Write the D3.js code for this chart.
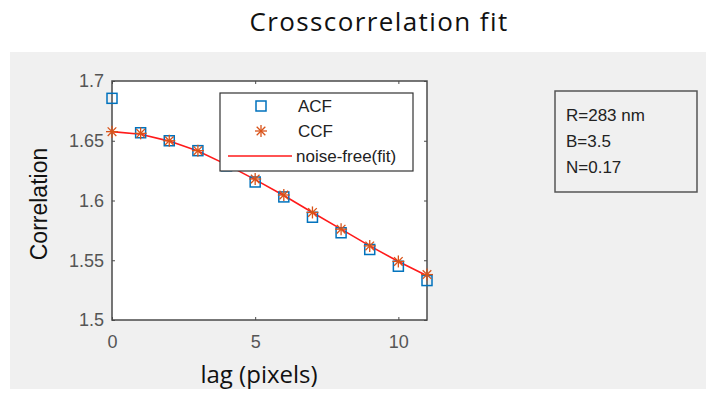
<!DOCTYPE html>
<html>
<head>
<meta charset="utf-8">
<script src="https://cdn.jsdelivr.net/npm/d3@7"></script>
<style>
  body { margin: 0; background: #fff; }
  svg { display: block; }
</style>
</head>
<body>
<div id="chart"></div>
<script>
// data
var lags = [0, 1, 2, 3, 4, 5, 6, 7, 8, 9, 10, 11];
var acf = [1.6855, 1.6567, 1.650, 1.6417, 1.629, 1.6155, 1.603, 1.586, 1.573, 1.559, 1.545, 1.533];
var ccf = [1.6576, 1.6562, 1.650, 1.6417, 1.630, 1.618, 1.6046, 1.590, 1.576, 1.562, 1.549, 1.538];
var fit = [1.6576, 1.6555, 1.6497, 1.6415, 1.630, 1.6175, 1.6042, 1.590, 1.576, 1.562, 1.549, 1.537];
var xTicks = [0, 5, 10];
var yTicks = [1.5, 1.55, 1.6, 1.65, 1.7];
var legendItems = ["ACF", "CCF", "noise-free(fit)"];
var infoLines = ["R=283 nm", "B=3.5", "N=0.17"];

var W = 715, H = 393;
var svg = d3.select("#chart").append("svg").attr("width", W).attr("height", H);

// grey figure panel
svg.append("rect").attr("x", 10).attr("y", 52).attr("width", 696).attr("height", 337).attr("fill", "#f0f0f0");

svg.append("text")
  .attr("x", 379).attr("y", 31)
  .attr("text-anchor", "middle")
  .style("font-family", "'Open Sans', sans-serif")
  .style("font-size", "26px")
  .style("letter-spacing", "1.4px")
  .attr("fill", "#111")
  .text("Crosscorrelation fit");

var pLeft = 112, pRight = 427, pTop = 81, pBottom = 320;
var x = d3.scaleLinear().domain([0, 11]).range([pLeft, pRight]);
var y = d3.scaleLinear().domain([1.5, 1.7]).range([pBottom, pTop]);

svg.append("rect").attr("x", pLeft).attr("y", pTop)
  .attr("width", pRight - pLeft).attr("height", pBottom - pTop).attr("fill", "#fff");

var axisColor = "#4a4a4a";
var tickFont = "Liberation Sans, Arial, sans-serif";

var gx = svg.append("g").attr("transform", "translate(0," + pBottom + ")")
  .call(d3.axisBottom(x).tickValues(xTicks).tickSizeInner(-3).tickSizeOuter(0).tickPadding(15));
var gy = svg.append("g").attr("transform", "translate(" + pLeft + ",0)")
  .call(d3.axisLeft(y).tickValues(yTicks).tickFormat(d3.format("")).tickSizeInner(-3).tickSizeOuter(0).tickPadding(8));
var gx2 = svg.append("g").attr("transform", "translate(0," + pTop + ")")
  .call(d3.axisTop(x).tickValues(xTicks).tickSizeInner(-3).tickSizeOuter(0).tickFormat(""));
var gy2 = svg.append("g").attr("transform", "translate(" + pRight + ",0)")
  .call(d3.axisRight(y).tickValues(yTicks).tickSizeInner(-3).tickSizeOuter(0).tickFormat(""));

[gx, gy, gx2, gy2].forEach(function(g) {
  g.select(".domain").remove();
  g.selectAll("line").attr("stroke", axisColor);
  g.selectAll("text").attr("fill", "#555").style("font-family", tickFont).style("font-size", "18px");
});

svg.append("rect").attr("x", pLeft).attr("y", pTop)
  .attr("width", pRight - pLeft).attr("height", pBottom - pTop)
  .attr("fill", "none").attr("stroke", axisColor).attr("stroke-width", 1.5);

// fit line
var line = d3.line().x(function(d, i) { return x(lags[i]); }).y(function(d) { return y(d); });
svg.append("path").datum(fit).attr("d", line)
  .attr("fill", "none").attr("stroke", "#ff1a1a").attr("stroke-width", 1.6);

var blue = "#0072BD", orange = "#D95319";
function drawStar(g, cx, cy, r) {
  var s = r * 0.72;
  var segs = [[-r, 0, r, 0], [0, -r, 0, r], [-s, -s, s, s], [-s, s, s, -s]];
  segs.forEach(function(p) {
    g.append("line").attr("x1", cx + p[0]).attr("y1", cy + p[1]).attr("x2", cx + p[2]).attr("y2", cy + p[3])
      .attr("stroke", orange).attr("stroke-width", 1.3);
  });
}

svg.append("g").selectAll("rect").data(acf).enter().append("rect")
  .attr("x", function(d, i) { return x(lags[i]) - 5; })
  .attr("y", function(d) { return y(d) - 5; })
  .attr("width", 10).attr("height", 10)
  .attr("fill", "none").attr("stroke", blue).attr("stroke-width", 1.5);

var stars = svg.append("g");
ccf.forEach(function(d, i) { drawStar(stars, x(lags[i]), y(d), 6); });

// legend
var lg = svg.append("g");
lg.append("rect").attr("x", 220).attr("y", 93).attr("width", 193).attr("height", 78)
  .attr("fill", "#fff").attr("stroke", "#333").attr("stroke-width", 1.2);
var rowY = [106, 131, 156];
lg.append("rect").attr("x", 256).attr("y", rowY[0] - 5).attr("width", 10).attr("height", 10)
  .attr("fill", "none").attr("stroke", blue).attr("stroke-width", 1.5);
drawStar(lg, 261, rowY[1], 6);
lg.append("line").attr("x1", 228).attr("x2", 292).attr("y1", rowY[2]).attr("y2", rowY[2])
  .attr("stroke", "#ff1a1a").attr("stroke-width", 1.6);
lg.selectAll("text.lab").data(legendItems).enter().append("text")
  .attr("x", function(d, i) { return i < 2 ? 298 : 296; })
  .attr("y", function(d, i) { return rowY[i] + 6; })
  .style("font-family", tickFont).style("font-size", "17px").attr("fill", "#222")
  .text(function(d) { return d; });

// axis labels
svg.append("text")
  .attr("transform", "translate(47,204) rotate(-90)")
  .attr("text-anchor", "middle")
  .style("font-family", tickFont).style("font-size", "23px").attr("fill", "#111")
  .text("Correlation");
svg.append("text")
  .attr("x", 259).attr("y", 383)
  .attr("text-anchor", "middle")
  .style("font-family", "'Open Sans', sans-serif").style("font-size", "24px").attr("fill", "#111")
  .text("lag (pixels)");

// info box
svg.append("rect").attr("x", 555).attr("y", 91).attr("width", 142).attr("height", 101)
  .attr("fill", "none").attr("stroke", "#555").attr("stroke-width", 1.5);
svg.selectAll("text.info").data(infoLines).enter().append("text")
  .attr("x", 566)
  .attr("y", function(d, i) { return 121 + i * 26; })
  .style("font-family", tickFont).style("font-size", "17px").attr("fill", "#222")
  .text(function(d) { return d; });
</script>
</body>
</html>
